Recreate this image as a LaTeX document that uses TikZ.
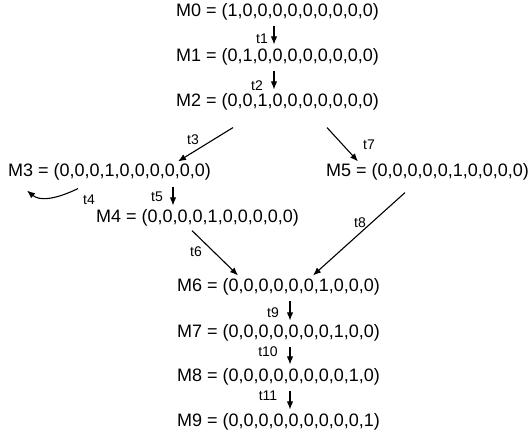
\documentclass[tikz,border=0pt]{standalone}
\usepackage{fontspec}
\setmainfont{Liberation Sans}
\usetikzlibrary{arrows.meta}
\begin{document}
\begin{tikzpicture}[x=1pt,y=-1pt,
  mk/.style={anchor=west,inner sep=0pt,font=\fontsize{18}{21}\selectfont},
  tl/.style={inner sep=0pt,font=\fontsize{14}{16}\selectfont},
  arr/.style={-{Latex[length=8pt,width=6.5pt]},line width=1.1pt}]
\useasboundingbox[fill=white] (0,0) rectangle (530,442);
\node[mk] (m0) at (176,12) {M0 = (1,0,0,0,0,0,0,0,0,0)};
\node[mk] (m1) at (176,57) {M1 = (0,1,0,0,0,0,0,0,0,0)};
\node[mk] (m2) at (176,102) {M2 = (0,0,1,0,0,0,0,0,0,0)};
\node[mk] (m3) at (8,172) {M3 = (0,0,0,1,0,0,0,0,0,0)};
\node[mk] (m5) at (326,172) {M5 = (0,0,0,0,0,1,0,0,0,0)};
\node[mk] (m4) at (96,218) {M4 = (0,0,0,0,1,0,0,0,0,0)};
\node[mk] (m6) at (177,287) {M6 = (0,0,0,0,0,0,1,0,0,0)};
\node[mk] (m7) at (177,333) {M7 = (0,0,0,0,0,0,0,1,0,0)};
\node[mk] (m8) at (177,377) {M8 = (0,0,0,0,0,0,0,0,1,0)};
\node[mk] (m9) at (177,422) {M9 = (0,0,0,0,0,0,0,0,0,1)};
% arrows
\draw[arr] ([xshift=98pt,yshift=-5pt]m0.south west) -- ([xshift=98pt,yshift=4pt]m1.north west);
\node[tl] (l1) at (262,39) {t1};
\draw[arr] ([xshift=98pt,yshift=-5pt]m1.south west) -- ([xshift=98pt,yshift=4pt]m2.north west);
\node[tl] (l2) at (257,86) {t2};
\draw[arr] ([xshift=57pt,yshift=-17pt]m2.south west) -- ([xshift=170pt,yshift=2pt]m3.north west);
\node[tl] (l3) at (193,140) {t3};
\draw[arr] ([xshift=151pt,yshift=-17pt]m2.south west) -- ([xshift=32pt,yshift=2pt]m5.north west);
\node[tl] (l7) at (369,145) {t7};
\draw[arr] ([xshift=70pt,yshift=-8pt]m3.south west) .. controls +(-25,12) and +(12,10) .. ([xshift=19pt,yshift=-10pt]m3.south west);
\node[tl] (l4) at (89,200) {t4};
\draw[arr] ([xshift=165pt,yshift=-6pt]m3.south west) -- ([xshift=77pt,yshift=4pt]m4.north west);
\node[tl] (l5) at (157,197) {t5};
\draw[arr] ([xshift=96pt,yshift=-4pt]m4.south west) -- ([xshift=61pt,yshift=3pt]m6.north west);
\node[tl] (l6) at (196,252) {t6};
\draw[arr] ([xshift=79pt,yshift=-12pt]m5.south west) -- ([xshift=136pt,yshift=3pt]m6.north west);
\node[tl] (l8) at (360,223) {t8};
\draw[arr] ([xshift=113pt,yshift=-5pt]m6.south west) -- ([xshift=113pt,yshift=4pt]m7.north west);
\node[tl] (l9) at (273,313) {t9};
\draw[arr] ([xshift=113pt,yshift=-5pt]m7.south west) -- ([xshift=113pt,yshift=4pt]m8.north west);
\node[tl] (l10) at (268,352) {t10};
\draw[arr] ([xshift=113pt,yshift=-5pt]m8.south west) -- ([xshift=113pt,yshift=4pt]m9.north west);
\node[tl] (l11) at (268,396) {t11};
\end{tikzpicture}
\end{document}
